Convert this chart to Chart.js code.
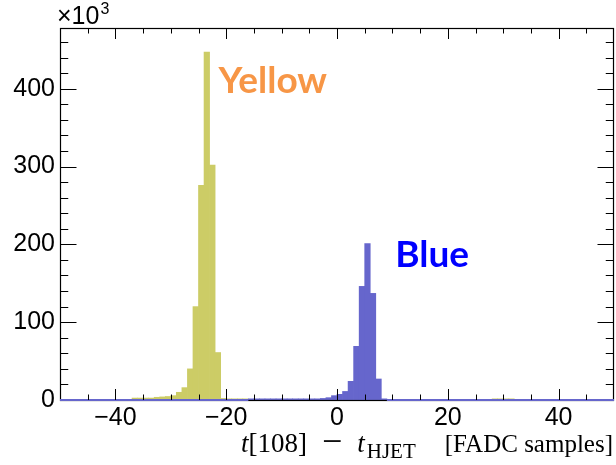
<!DOCTYPE html>
<html>
<head>
<meta charset="utf-8">
<script src="https://cdn.jsdelivr.net/npm/chart.js@4.4.1/dist/chart.umd.min.js"></script>
<style>
  html, body { margin: 0; padding: 0; background: #fff; }
  #wrap { width: 616px; height: 465px; }
</style>
</head>
<body>
<div id="wrap"><canvas id="timingChart"></canvas></div>
<script>
// bin centres in FADC samples, counts in units of 10^3
const yellowCenters = [-36.5, -35.5, -34.5, -33.5, -32.5, -31.5, -30.5, -29.5, -28.5, -27.5,
                       -26.5, -25.5, -24.5, -23.5, -22.5, -21.5, -20.5, -19.5, -18.5, -17.5,
                       -16.5, 28.5, 29.5, 30.5, 31.5];
const yellowCounts  = [2.5, 2.5, 2.5, 2.5, 3.5, 4, 4.5, 5.6, 9.9, 15.9,
                       40, 120, 276, 447, 302, 61, 2, 1.5, 1.5, 1.5,
                       1.5, 1.5, 1.5, 1.5, 1.5];

const blueCenters = [-15.5, -14.5, -13.5, -12.5, -11.5, -10.5, -9.5, -8.5, -7.5, -6.5,
                     -5.5, -4.5, -3.5, -2.5, -1.5, -0.5, 0.5, 1.5, 2.5, 3.5,
                     4.5, 5.5, 6.5, 7.5, 8.5];
const blueCounts  = [1.5, 1.5, 1.5, 1.5, 1.5, 1.5, 1.5, 1.5, 1.5, 1.5,
                     1.5, 1.5, 1.5, 2, 3, 5.6, 7.3, 11, 24, 69,
                     146, 201, 137, 27, 1.5];

const xTicks = [-40, -20, 0, 20, 40];
const yTicks = [0, 100, 200, 300, 400];
const xMin = -50, xMax = 50, yMax = 478;

const toPoints = (xs, ys) => xs.map((x, i) => ({ x: x, y: ys[i] }));

// frame, inward ROOT-style ticks, blue baseline, labels
const rootFrame = {
  id: 'rootFrame',
  afterDatasetsDraw(chart) {
    const ctx = chart.ctx;
    const a = chart.chartArea;
    const xs = chart.scales.x, ys = chart.scales.y;
    ctx.save();

    ctx.strokeStyle = '#000';
    ctx.lineWidth = 1.2;
    ctx.strokeRect(Math.round(a.left) + 0.5, Math.round(a.top) + 0.5,
                   Math.round(a.right - a.left) - 1, Math.round(a.bottom - a.top));

    // blue histogram outline along zero where the blue bins are empty
    ctx.strokeStyle = '#6666cc';
    ctx.lineWidth = 2;
    ctx.beginPath();
    for (let lo = xMin; lo < xMax; lo++) {
      if (blueCenters.indexOf(lo + 0.5) !== -1) continue;
      ctx.moveTo(xs.getPixelForValue(lo), a.bottom);
      ctx.lineTo(xs.getPixelForValue(lo + 1), a.bottom);
    }
    ctx.stroke();

    ctx.strokeStyle = '#000';
    ctx.lineWidth = 1;
    ctx.beginPath();
    const xMajor = 11, yMajor = 16.5;
    for (let v = xMin + 5; v < xMax; v += 5) {
      const px = Math.round(xs.getPixelForValue(v)) + 0.5;
      const len = v % 20 === 0 ? xMajor : xMajor / 2;
      ctx.moveTo(px, a.bottom); ctx.lineTo(px, a.bottom - len);
      ctx.moveTo(px, a.top); ctx.lineTo(px, a.top + len);
    }
    for (let v = 20; v < yMax; v += 20) {
      const py = Math.round(ys.getPixelForValue(v)) + 0.5;
      const len = v % 100 === 0 ? yMajor : yMajor / 2;
      ctx.moveTo(a.left, py); ctx.lineTo(a.left + len, py);
      ctx.moveTo(a.right, py); ctx.lineTo(a.right - len, py);
    }
    ctx.stroke();

    // exponent label
    ctx.fillStyle = '#000';
    ctx.textBaseline = 'alphabetic';
    ctx.textAlign = 'left';
    ctx.font = '25px "Liberation Sans", Arial, sans-serif';
    ctx.fillText('\u00d710', a.left - 3, 24);
    const w10 = ctx.measureText('\u00d710').width;
    ctx.font = '16px "Liberation Sans", Arial, sans-serif';
    ctx.fillText('3', a.left - 3 + w10 + 1, 14);

    // axis title, right aligned to the frame
    const serif = '"Liberation Serif", "Times New Roman", serif';
    const parts = [
      { s: 't', f: 'italic 27px ' + serif, dy: 0, gap: 0 },
      { s: '[108]', f: '27px ' + serif, dy: 0, gap: 15 },
      { s: '\u2212', f: '36px ' + serif, dy: 1, gap: 15 },
      { s: 't', f: 'italic 27px ' + serif, dy: 0, gap: 2 },
      { s: 'HJET', f: '21px ' + serif, dy: 6, gap: 29 },
      { s: '[FADC samples]', f: '25px ' + serif, dy: 0, gap: 0 }
    ];
    let total = 0;
    parts.forEach(p => { ctx.font = p.f; p.w = ctx.measureText(p.s).width; total += p.w + p.gap; });
    let x = a.right - 1 - total;
    const base = 452;
    parts.forEach(p => { ctx.font = p.f; ctx.fillText(p.s, x, base + p.dy); x += p.w + p.gap; });

    // beam labels
    ctx.font = 'bold 37px Lato, "Open Sans", sans-serif';
    ctx.fillStyle = '#f79646';
    ctx.fillText('Yellow', xs.getPixelForValue(-21.4), ys.getPixelForValue(394));
    ctx.fillStyle = '#0000ff';
    ctx.fillText('Blue', xs.getPixelForValue(10.5), ys.getPixelForValue(171));

    ctx.restore();
  }
};

const tickFont = { family: '"Liberation Sans", Arial, sans-serif', size: 25 };

new Chart(document.getElementById('timingChart').getContext('2d'), {
  type: 'bar',
  data: {
    datasets: [{
      label: 'Blue',
      data: toPoints(blueCenters, blueCounts),
      backgroundColor: '#6666cc',
      borderWidth: 0,
      grouped: false,
      barPercentage: 1,
      categoryPercentage: 1
    }, {
      label: 'Yellow',
      data: toPoints(yellowCenters, yellowCounts),
      backgroundColor: '#cccc66',
      borderWidth: 0,
      grouped: false,
      barPercentage: 1,
      categoryPercentage: 1
    }]
  },
  options: {
    responsive: true,
    maintainAspectRatio: false,
    animation: false,
    layout: { padding: { top: 28, right: 2, left: 0, bottom: 0 } },
    plugins: { legend: { display: false }, tooltip: { enabled: false } },
    scales: {
      x: {
        type: 'linear',
        offset: false,
        min: xMin,
        max: xMax,
        grid: { display: false, drawTicks: false, offset: false },
        border: { display: false },
        afterBuildTicks: s => { s.ticks = xTicks.map(v => ({ value: v })); },
        afterFit: s => { s.height = 65; },
        ticks: {
          color: '#000',
          font: tickFont,
          padding: 3,
          maxRotation: 0,
          callback: v => v < 0 ? '\u2212' + Math.abs(v) : String(v)
        }
      },
      y: {
        min: 0,
        max: yMax,
        grid: { display: false, drawTicks: false },
        border: { display: false },
        afterBuildTicks: s => { s.ticks = yTicks.map(v => ({ value: v })); },
        afterFit: s => { s.width = 60; },
        ticks: { color: '#000', font: tickFont, padding: 5 }
      }
    }
  },
  plugins: [rootFrame]
});
</script>
</body>
</html>
